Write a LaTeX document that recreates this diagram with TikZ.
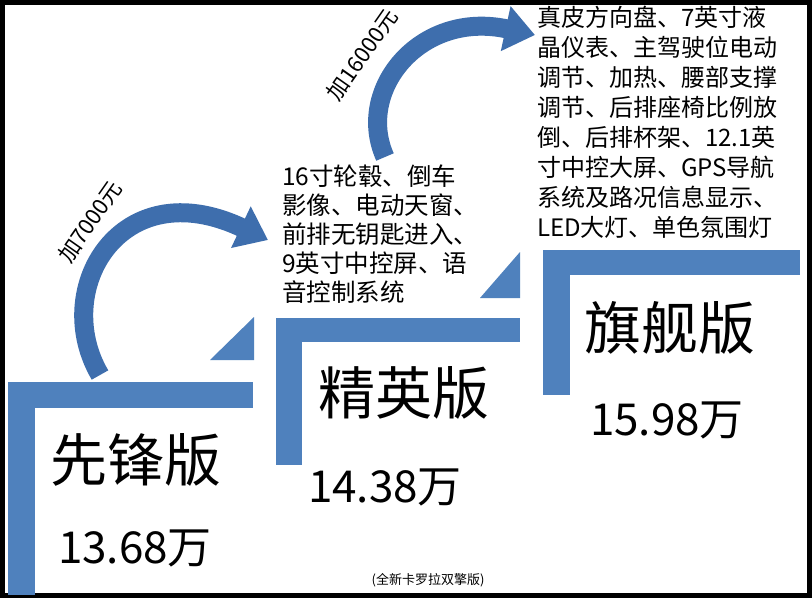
\documentclass[tikz,border=0pt]{standalone}
\usepackage{fontspec}
\setmainfont{Noto Sans CJK SC}
\usetikzlibrary{arrows.meta}
\definecolor{stepblue}{HTML}{4F81BD}
\definecolor{arrblue}{HTML}{3E6EAD}
\begin{document}
\begin{tikzpicture}[x=1pt,y=-1pt,
  bar/.style={fill=stepblue,draw=none},
  curvearrow/.style={draw=arrblue,line width=19pt,-{Triangle[length=30pt,width=44pt]}},
  feat/.style={anchor=north west,align=left,inner sep=0pt},
  big/.style={inner sep=0pt,anchor=center}]
\useasboundingbox (0,0) rectangle (812,598);
\fill[white] (0,0) rectangle (812,598);
\draw[line width=5pt] (2.5,2.5) rectangle (809.5,595.5);
% steps
\fill[bar] (8,382) rectangle (253,408);
\fill[bar] (8,382) rectangle (35,595);
\fill[bar] (210,360) -- (254,360) -- (254,317) -- cycle;
\fill[bar] (276,318) rectangle (520,342);
\fill[bar] (276,318) rectangle (302,465);
\fill[bar] (480,298) -- (520,298) -- (520,252) -- cycle;
\fill[bar] (543,250) rectangle (800,275);
\fill[bar] (543,250) rectangle (570,395);
% arrows
\coordinate (a1s) at (100,375);
\coordinate (a1e) at (268,240);
\draw[curvearrow] (a1s) .. controls (50,290) and (120,170) .. (a1e);
\coordinate (a2s) at (385,157);
\coordinate (a2e) at (535,35);
\draw[curvearrow] (a2s) .. controls (355,90) and (420,10) .. (a2e);
% labels
\node[rotate=55,font=\fontsize{22}{24}\selectfont] (l1) at (90,222) {加7000元};
\node[rotate=55,font=\fontsize{22}{24}\selectfont] (l2) at (362,55) {加16000元};
\node[big,font=\fontsize{57}{60}\selectfont] (n1) at (136,460) {先锋版};
\node[big,font=\fontsize{44}{48}\selectfont] (p1) at (135,548) {13.68万};
\node[big,font=\fontsize{57}{60}\selectfont] (n2) at (404,393) {精英版};
\node[big,font=\fontsize{44}{48}\selectfont] (p2) at (385,487) {14.38万};
\node[big,font=\fontsize{57}{60}\selectfont] (n3) at (670,328) {旗舰版};
\node[big,font=\fontsize{44}{48}\selectfont] (p3) at (667,420) {15.98万};
\node[feat,font=\fontsize{24.5}{29}\selectfont] (f2) at (282,165) {16寸轮毂、倒车\\影像、电动天窗、\\前排无钥匙进入、\\9英寸中控屏、语\\音控制系统};
\node[feat,font=\fontsize{24}{30}\selectfont] (f3) at (537,6) {真皮方向盘、7英寸液\\晶仪表、主驾驶位电动\\调节、加热、腰部支撑\\调节、后排座椅比例放\\倒、后排杯架、12.1英\\寸中控大屏、GPS导航\\系统及路况信息显示、\\LED大灯、单色氛围灯};
\node[font=\fontsize{13}{15}\selectfont] (cap) at (428,580) {(全新卡罗拉双擎版)};
\end{tikzpicture}
\end{document}
